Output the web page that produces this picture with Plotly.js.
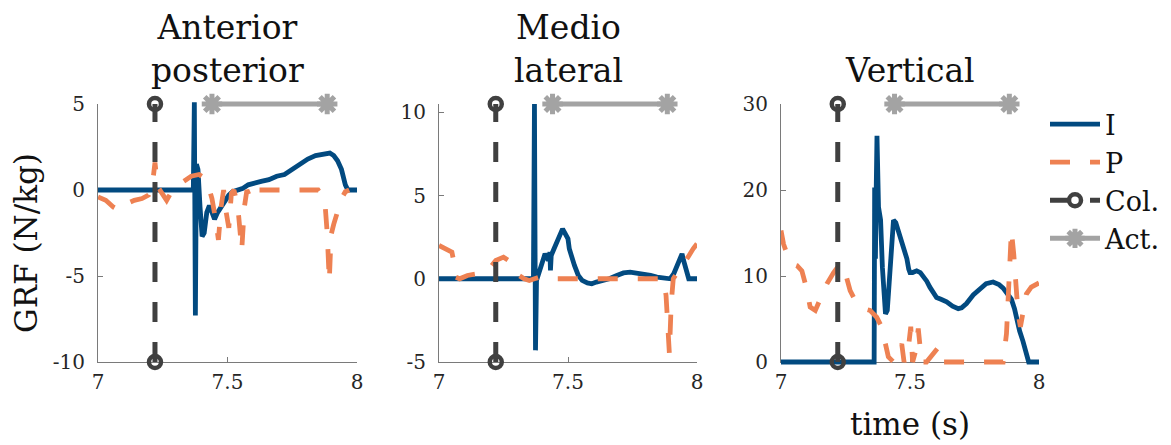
<!DOCTYPE html>
<html>
<head>
<meta charset="utf-8">
<script src="https://cdn.plot.ly/plotly-3.0.1.min.js"></script>
<style>
  html, body { margin: 0; padding: 0; background: #fff; }
  #chart { width: 1171px; height: 445px; }
</style>
</head>
<body>
<div id="chart"></div>
<script>
// Ground reaction force per body weight, three components over one second.

// Anterior-posterior component
const apTimeI = [7.000, 7.368, 7.372, 7.376, 7.380, 7.386, 7.394, 7.402, 7.410, 7.420, 7.430, 7.440, 7.450, 7.462, 7.475, 7.490, 7.505, 7.520, 7.540, 7.560, 7.580, 7.600, 7.630, 7.660, 7.690, 7.720, 7.750, 7.780, 7.810, 7.840, 7.870, 7.895, 7.910, 7.925, 7.940, 7.955, 7.965, 8.000];
const apI     = [0, 0, 5.1, -7.3, 1.5, 1.2, -1.0, -2.7, -2.5, -1.3, -0.9, -1.4, -1.7, -1.3, -1.0, -0.6, -0.3, -0.1, 0.0, 0.1, 0.3, 0.4, 0.5, 0.6, 0.8, 0.9, 1.2, 1.5, 1.8, 2.0, 2.1, 2.15, 2.0, 1.7, 1.2, 0.3, 0, 0];
const apTimeP = [7.000, 7.030, 7.060, 7.085, 7.110, 7.140, 7.170, 7.195, 7.210, 7.220, 7.230, 7.250, 7.265, 7.280, 7.300, 7.330, 7.360, 7.390, 7.410, 7.425, 7.440, 7.455, 7.465, 7.475, 7.485, 7.495, 7.505, 7.515, 7.525, 7.540, 7.555, 7.565, 7.575, 7.590, 7.600, 7.650, 7.750, 7.850, 7.875, 7.885, 7.893, 7.900, 7.910, 7.925, 7.940, 7.955, 7.970];
const apP     = [-0.4, -0.6, -1.0, -1.2, -0.8, -0.6, -0.5, -0.3, 0.3, 1.6, 0.2, -0.3, -0.6, -0.2, 0.2, 0.5, 0.8, 0.9, 0.7, 0.3, -0.5, -1.8, -2.9, -1.0, 0.0, -1.3, -2.2, -0.2, 0.0, -1.0, -3.5, -1.0, 0.0, -0.5, 0.0, 0.0, 0.0, 0.0, -0.5, -2.5, -5.3, -2.6, -2.0, -1.2, -0.5, -0.1, 0.0];

// Medio-lateral component
const mlTimeI = [7.000, 7.366, 7.370, 7.374, 7.378, 7.390, 7.398, 7.405, 7.411, 7.418, 7.424, 7.430, 7.432, 7.435, 7.443, 7.455, 7.465, 7.479, 7.486, 7.490, 7.494, 7.500, 7.505, 7.512, 7.525, 7.540, 7.555, 7.575, 7.592, 7.610, 7.637, 7.660, 7.689, 7.715, 7.741, 7.765, 7.793, 7.820, 7.845, 7.870, 7.896, 7.910, 7.922, 7.935, 7.942, 7.948, 7.955, 7.962, 7.968, 8.000];
const mlI     = [0, 0, 10.5, -4.3, -0.1, 0.5, 0.9, 1.3, 1.5, 1.3, 1.1, 1.6, 0.5, 1.4, 1.7, 2.2, 2.6, 3.0, 2.8, 2.7, 2.5, 2.4, 1.8, 1.4, 0.8, 0.2, -0.1, -0.25, -0.3, -0.2, -0.1, 0.0, 0.2, 0.35, 0.4, 0.35, 0.3, 0.2, 0.1, 0.05, 0.0, 0.3, 0.7, 1.2, 1.5, 1.1, 0.7, 0.2, 0, 0];
const mlTimeP = [7.000, 7.025, 7.050, 7.058, 7.065, 7.080, 7.110, 7.150, 7.180, 7.200, 7.220, 7.250, 7.270, 7.290, 7.310, 7.330, 7.350, 7.370, 7.390, 7.410, 7.430, 7.500, 7.600, 7.700, 7.800, 7.870, 7.880, 7.887, 7.893, 7.900, 7.908, 7.925, 7.945, 7.965, 7.985, 8.000];
const mlP     = [2.0, 1.8, 1.6, 1.0, 0.1, 0.0, 0.2, 0.3, 0.4, 0.7, 1.1, 1.3, 1.1, 0.6, 0.2, 0.0, -0.1, 0.0, 0.1, 0.0, 0.0, 0.0, 0.0, 0.0, 0.0, 0.0, -1.0, -3.0, -4.5, -1.5, 0.0, 0.4, 0.8, 1.3, 1.8, 2.1];

// Vertical component
const vTimeI = [7.000, 7.361, 7.363, 7.366, 7.369, 7.372, 7.378, 7.380, 7.386, 7.393, 7.400, 7.405, 7.412, 7.420, 7.428, 7.436, 7.445, 7.455, 7.465, 7.475, 7.481, 7.488, 7.495, 7.500, 7.510, 7.526, 7.540, 7.552, 7.565, 7.577, 7.590, 7.603, 7.620, 7.642, 7.665, 7.687, 7.700, 7.719, 7.745, 7.771, 7.795, 7.822, 7.845, 7.861, 7.878, 7.893, 7.905, 7.915, 7.925, 7.938, 7.950, 7.960, 8.000];
const vI     = [0, 0, 20.3, 12, 20, 26.3, 18, 17.5, 16.5, 11, 6.5, 5.6, 6.0, 9.5, 14.5, 16.5, 16.2, 15.2, 14.0, 13.0, 12.5, 12.0, 10.8, 10.4, 10.4, 10.6, 10.4, 10.0, 9.4, 8.7, 8.1, 7.5, 7.3, 7.0, 6.5, 6.2, 6.3, 6.8, 7.8, 8.5, 9.1, 9.3, 9.0, 8.6, 8.0, 7.3, 6.2, 4.8, 3.6, 2.4, 1.0, 0, 0];
const vTimeP = [7.000, 7.010, 7.023, 7.043, 7.062, 7.081, 7.098, 7.113, 7.133, 7.152, 7.178, 7.204, 7.229, 7.249, 7.268, 7.294, 7.320, 7.345, 7.371, 7.390, 7.403, 7.416, 7.436, 7.468, 7.477, 7.494, 7.503, 7.510, 7.523, 7.532, 7.545, 7.564, 7.610, 7.619, 7.700, 7.861, 7.874, 7.884, 7.893, 7.902, 7.910, 7.919, 7.928, 7.938, 7.951, 7.970, 7.990, 8.000];
const vP     = [15.3, 13.7, 12.6, 11.4, 11.2, 10.6, 8.7, 6.4, 6.0, 7.2, 9.1, 10.4, 11.4, 10.4, 8.3, 6.8, 6.2, 6.0, 5.2, 4.1, 2.1, 0.6, 0, 2.1, 0, 1.7, 4.1, 0, 1.4, 3.9, 0, 0, 1.7, 0, 0, 0, 3.3, 9.5, 15.3, 12.6, 9.5, 5.6, 4.1, 6.0, 7.9, 8.7, 9.1, 9.2];

// Event times and axis limits
const collisionTime = [7.22, 7.22];
const activeTime = [7.44, 7.885];
const apLimits = [-10, 5];
const mlLimits = [-5, 10.5];
const vLimits = [0, 30];

const timeTicks = [7, 7.5, 8];
const timeTickText = ['7', '7.5', '8'];
const apTicks = [-10, -5, 0, 5];
const apTickText = ['-10', '-5', '0', '5'];
const mlTicks = [-5, 0, 5, 10];
const mlTickText = ['-5', '0', '5', '10'];
const vTicks = [0, 10, 20, 30];
const vTickText = ['0', '10', '20', '30'];

const panelTitles = ['Anterior<br>posterior', 'Medio<br>lateral', 'Vertical'];

const BLUE = '#024a80';
const ORANGE = '#ee8152';
const DARK = '#404040';
const GREY = '#a3a3a3';
const FONT = 'DejaVu Serif, serif';

const W = 1171, H = 445;
const plotBottom = 83, plotTop = 341;   // pixel heights from the bottom edge
const pad = 14;                         // room so lines lying on the axis limits are drawn whole

const panels = [
  { ax: '', ev: '4', tI: apTimeI, I: apI, tP: apTimeP, P: apP, lim: apLimits },
  { ax: '2', ev: '5', tI: mlTimeI, I: mlI, tP: mlTimeP, P: mlP, lim: mlLimits },
  { ax: '3', ev: '6', tI: vTimeI, I: vI, tP: vTimeP, P: vP, lim: vLimits }
];

const traces = [];
// Empty traces so each visible axis pair gets its own subplot
panels.forEach(p => {
  traces.push({
    x: [], y: [], xaxis: 'x' + p.ax, yaxis: 'y' + p.ax, type: 'scatter', mode: 'lines',
    showlegend: false, hoverinfo: 'skip'
  });
});
panels.forEach((p, k) => {
  const xa = 'x' + p.ax, ea = 'y' + p.ev;
  const first = k === 0;
  traces.push({
    x: p.tI, y: p.I, xaxis: xa, yaxis: ea, type: 'scatter', mode: 'lines',
    name: 'I', legendgroup: 'I', showlegend: first,
    line: { color: BLUE, width: 4.8 }
  });
  traces.push({
    x: p.tP, y: p.P, xaxis: xa, yaxis: ea, type: 'scatter', mode: 'lines',
    name: 'P', legendgroup: 'P', showlegend: first,
    line: { color: ORANGE, width: 4.8, dash: '20px,20px' }
  });
  traces.push({
    x: collisionTime, y: p.lim, xaxis: xa, yaxis: ea, type: 'scatter', mode: 'lines+markers',
    name: 'Col.', legendgroup: 'Col', showlegend: first, cliponaxis: false,
    line: { color: DARK, width: 5, dash: '20px,20px' },
    marker: { symbol: 'circle-open', size: 12, color: DARK, line: { color: DARK, width: 4.5 } }
  });
  traces.push({
    x: activeTime, y: [p.lim[1], p.lim[1]], xaxis: xa, yaxis: ea, type: 'scatter', mode: 'lines+markers',
    name: 'Act.', legendgroup: 'Act', showlegend: first, cliponaxis: false,
    line: { color: GREY, width: 5 },
    marker: { symbol: 'asterisk-open', size: 17, color: GREY, line: { color: GREY, width: 5 } }
  });
});

const yDom = [plotBottom / H, plotTop / H];
function xAxis(d0, d1, anchor) {
  return {
    domain: [d0 / W, d1 / W], anchor: anchor, range: [7, 8],
    tickvals: timeTicks, ticktext: timeTickText,
    showline: true, linecolor: '#7a7a7a', linewidth: 1,
    ticks: 'inside', ticklen: 5, tickcolor: '#7a7a7a',
    showgrid: false, zeroline: false, ticklabelstandoff: 2,
    tickfont: { family: FONT, size: 20, color: '#262626' }
  };
}
function yAxis(lim, vals, text, anchor) {
  return {
    domain: yDom, anchor: anchor, range: lim,
    tickvals: vals, ticktext: text,
    showline: true, linecolor: '#7a7a7a', linewidth: 1,
    ticks: 'inside', ticklen: 5, tickcolor: '#7a7a7a',
    showgrid: false, zeroline: false, ticklabelstandoff: 8,
    tickfont: { family: FONT, size: 20, color: '#262626' }
  };
}
// Hidden companion axis with the same scale, padded past the limits
function drawAxis(lim, anchor) {
  const upp = (lim[1] - lim[0]) / (plotTop - plotBottom);
  return {
    domain: [(plotBottom - pad) / H, (plotTop + pad) / H], anchor: anchor,
    range: [lim[0] - pad * upp, lim[1] + pad * upp],
    visible: false, showgrid: false, zeroline: false
  };
}

const centers = [(98 + 357) / 2, (439 + 697) / 2, (781 + 1039) / 2];
const annotations = panelTitles.map((t, k) => ({
  text: t, xref: 'paper', yref: 'paper', x: centers[k] / W, y: 1 - 92 / H,
  xanchor: 'center', yanchor: 'bottom', showarrow: false,
  font: { family: FONT, size: 33, color: '#111' }
}));
annotations.push({
  text: 'GRF (N/kg)', xref: 'paper', yref: 'paper', x: 26 / W, y: 1 - 243 / H,
  xanchor: 'center', yanchor: 'middle', textangle: -90, showarrow: false,
  font: { family: FONT, size: 31, color: '#111' }
});
annotations.push({
  text: 'time (s)', xref: 'paper', yref: 'paper', x: centers[2] / W, y: 1 - 424 / H,
  xanchor: 'center', yanchor: 'middle', showarrow: false,
  font: { family: FONT, size: 31, color: '#111' }
});

const layout = {
  width: W, height: H,
  margin: { l: 0, r: 0, t: 0, b: 0 },
  paper_bgcolor: '#fff', plot_bgcolor: 'rgba(0,0,0,0)',
  showlegend: true,
  legend: {
    x: 1045 / W, y: 1 - 100 / H, xanchor: 'left', yanchor: 'top',
    font: { family: FONT, size: 27, color: '#111' },
    itemwidth: 50, tracegroupgap: 0, bgcolor: 'rgba(0,0,0,0)',
    traceorder: 'grouped'
  },
  xaxis: xAxis(98, 357, 'y'),
  yaxis: yAxis(apLimits, apTicks, apTickText, 'x'),
  xaxis2: xAxis(439, 697, 'y2'),
  yaxis2: yAxis(mlLimits, mlTicks, mlTickText, 'x2'),
  xaxis3: xAxis(781, 1039, 'y3'),
  yaxis3: yAxis(vLimits, vTicks, vTickText, 'x3'),
  yaxis4: drawAxis(apLimits, 'x'),
  yaxis5: drawAxis(mlLimits, 'x2'),
  yaxis6: drawAxis(vLimits, 'x3'),
  annotations: annotations
};

Plotly.newPlot('chart', traces, layout, { staticPlot: true, displayModeBar: false });
</script>
</body>
</html>
